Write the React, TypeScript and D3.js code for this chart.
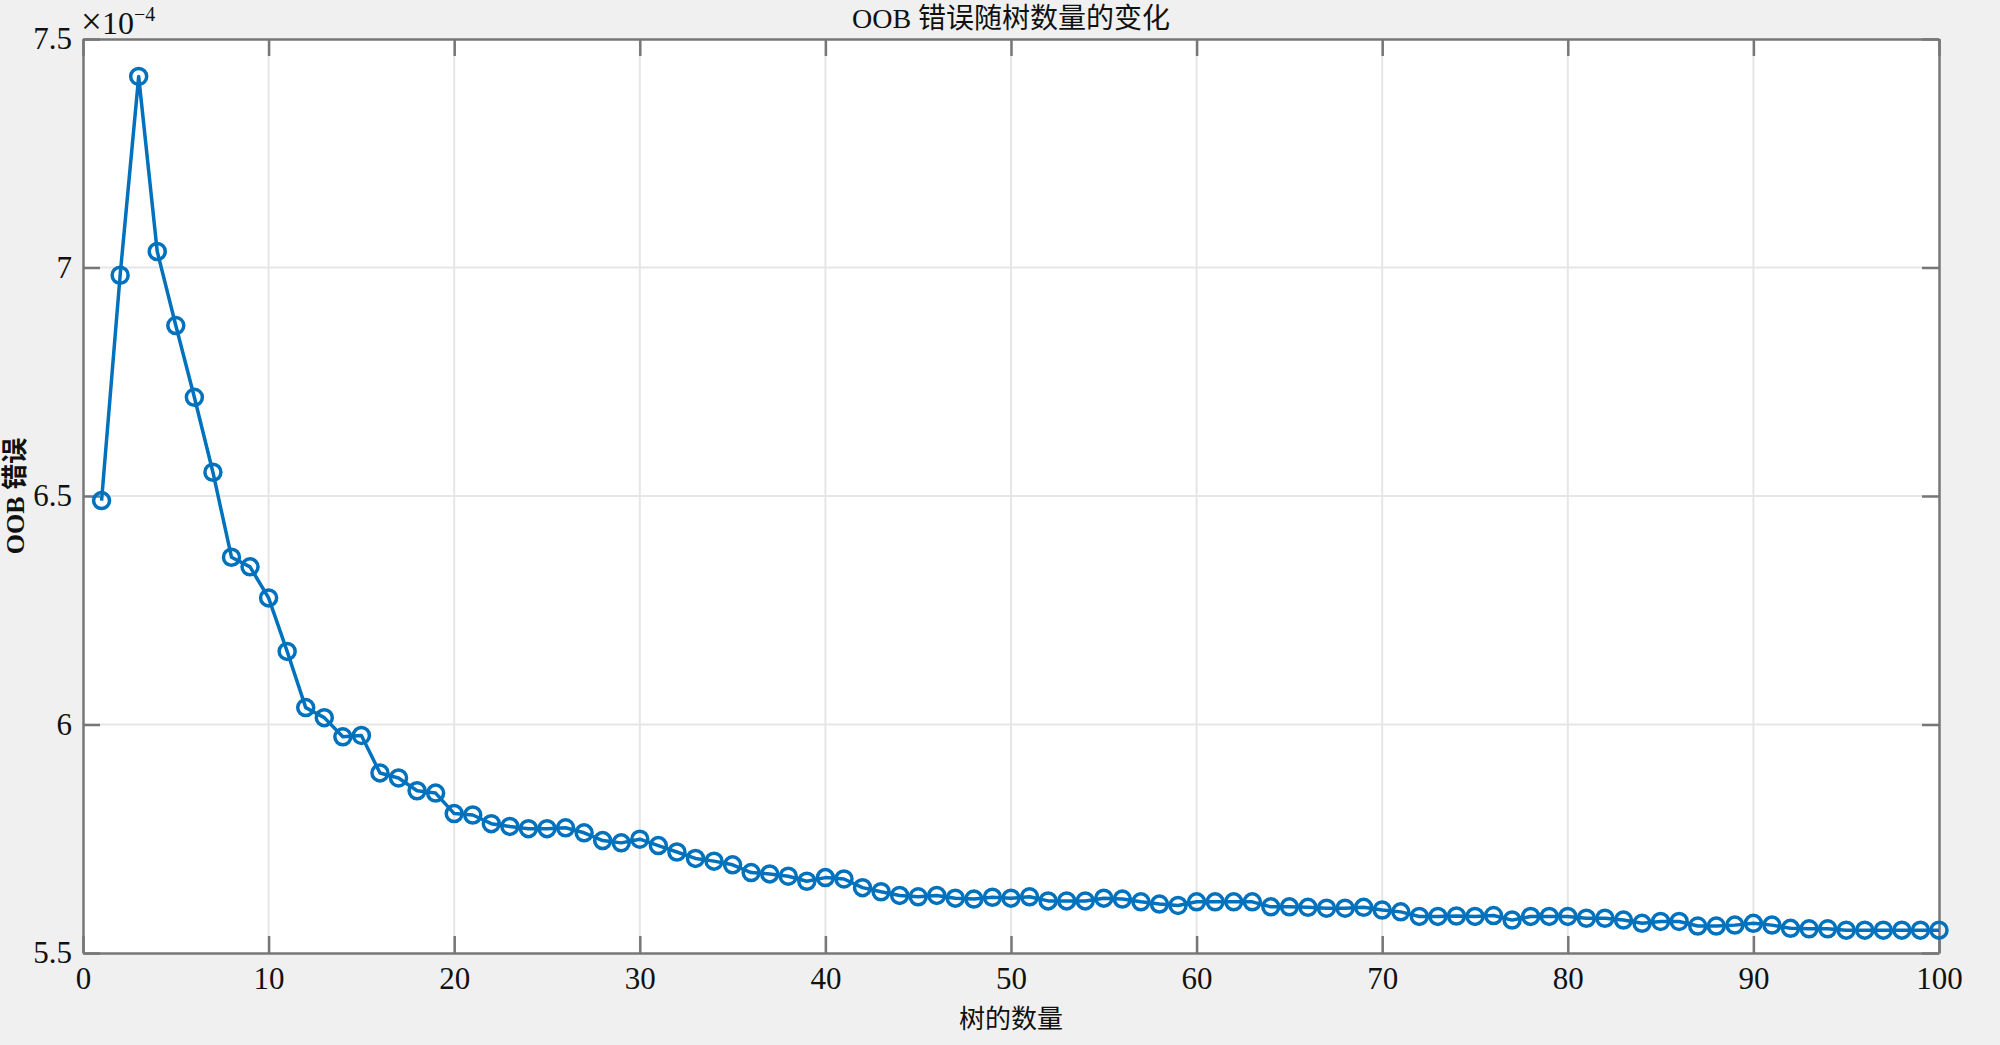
import React, { useEffect, useRef } from "react";
import * as d3 from "d3";

// OOB error (x 1e-4) for 1..100 trees
const trees = d3.range(1, 101);
const oobError = [
  6.49, 6.983, 7.418, 7.035, 6.873, 6.716, 6.552, 6.366, 6.345, 6.277,
  6.16, 6.037, 6.015, 5.973, 5.976, 5.894, 5.883, 5.855, 5.85, 5.805,
  5.802, 5.783, 5.777, 5.772, 5.772, 5.774, 5.763, 5.746, 5.741, 5.749,
  5.735, 5.721, 5.707, 5.701, 5.693, 5.676, 5.673, 5.668, 5.657, 5.665,
  5.662, 5.643, 5.634, 5.626, 5.623, 5.626, 5.62, 5.618, 5.622, 5.62,
  5.623, 5.614, 5.614, 5.614, 5.62, 5.618, 5.612, 5.607, 5.604, 5.612,
  5.612, 5.612, 5.612, 5.601, 5.601, 5.6, 5.598, 5.598, 5.6, 5.594,
  5.59, 5.58, 5.58, 5.581, 5.58, 5.582, 5.572, 5.58, 5.58, 5.58,
  5.576, 5.576, 5.572, 5.565, 5.569, 5.569, 5.559, 5.559, 5.561, 5.565,
  5.561, 5.554, 5.553, 5.553, 5.55, 5.55, 5.55, 5.55, 5.55, 5.55,
];
const xTicks = [0, 10, 20, 30, 40, 50, 60, 70, 80, 90, 100];
const yTicks = [5.5, 6, 6.5, 7, 7.5];

const title = "OOB 错误随树数量的变化";
const xLabel = "树的数量";
const yLabel = "OOB 错误";

const width = 2000;
const height = 1045;
const margin = { top: 39, right: 61, bottom: 92, left: 83 };
const font = "'Liberation Serif', 'Times New Roman', 'Noto Sans CJK SC', serif";

const App = () => {
  const ref = useRef<SVGSVGElement>(null);

  useEffect(() => {
    const svg = d3.select(ref.current);
    svg.selectAll("*").remove();

    const x = d3.scaleLinear().domain([0, 100]).range([margin.left, width - margin.right]);
    const y = d3.scaleLinear().domain([5.5, 7.5]).range([height - margin.bottom, margin.top]);
    const x0 = margin.left, x1 = width - margin.right;
    const y0 = height - margin.bottom, y1 = margin.top;
    const tickLen = 17;
    const axisColor = "#777";

    svg.append("rect").attr("width", width).attr("height", height).attr("fill", "#f0f0f0");
    svg.append("rect").attr("x", x0).attr("y", y1).attr("width", x1 - x0).attr("height", y0 - y1).attr("fill", "#fff");

    // grid
    const grid = svg.append("g").attr("stroke", "#e6e6e6").attr("stroke-width", 2);
    grid.selectAll(".gx").data(xTicks.slice(1, -1)).enter().append("line")
      .attr("x1", (d) => x(d)).attr("x2", (d) => x(d)).attr("y1", y1).attr("y2", y0);
    grid.selectAll(".gy").data(yTicks.slice(1, -1)).enter().append("line")
      .attr("x1", x0).attr("x2", x1).attr("y1", (d) => y(d)).attr("y2", (d) => y(d));

    // axes with ticks on all sides
    const xAxis = d3.axisBottom(x).tickValues(xTicks).tickSizeInner(-tickLen).tickSizeOuter(0).tickPadding(14).tickFormat(d3.format("d"));
    const yAxis = d3.axisLeft(y).tickValues(yTicks).tickSizeInner(-tickLen).tickSizeOuter(0).tickPadding(11).tickFormat((d) => String(d));
    const xTop = d3.axisTop(x).tickValues(xTicks).tickSizeInner(-tickLen).tickSizeOuter(0).tickFormat(() => "");
    const yRight = d3.axisRight(y).tickValues(yTicks).tickSizeInner(-tickLen).tickSizeOuter(0).tickFormat(() => "");

    const styleAxis = (g) => {
      g.selectAll("path").attr("stroke", axisColor).attr("stroke-width", 2.5);
      g.selectAll("line").attr("stroke", axisColor).attr("stroke-width", 2.5);
      g.selectAll("text").attr("fill", "#111").style("font-family", font).style("font-size", "31px");
    };
    svg.append("g").attr("transform", `translate(0,${y0})`).call(xAxis).call(styleAxis);
    svg.append("g").attr("transform", `translate(${x0},0)`).call(yAxis).call(styleAxis);
    svg.append("g").attr("transform", `translate(0,${y1})`).call(xTop).call(styleAxis);
    svg.append("g").attr("transform", `translate(${x1},0)`).call(yRight).call(styleAxis);

    // series
    const color = "#0072bd";
    const line = d3.line<number>().x((d, i) => x(trees[i])).y((d) => y(d));
    svg.append("path").datum(oobError).attr("d", line).attr("fill", "none")
      .attr("stroke", color).attr("stroke-width", 3.5).attr("stroke-linejoin", "round");
    svg.append("g").selectAll("circle").data(oobError).enter().append("circle")
      .attr("cx", (d, i) => x(trees[i])).attr("cy", (d) => y(d)).attr("r", 8)
      .attr("fill", "none").attr("stroke", color).attr("stroke-width", 3.5);

    // exponent label
    const ex = svg.append("text").attr("x", x0 - 2).attr("y", 34)
      .style("font-family", font).style("font-size", "32px").attr("fill", "#111");
    ex.append("tspan").style("font-size", "37px").text("×");
    ex.append("tspan").text("10");
    ex.append("tspan").attr("dy", -13).style("font-size", "20px").text("−4");

    // title and labels
    svg.append("text").attr("x", (x0 + x1) / 2).attr("y", 28).attr("text-anchor", "middle")
      .style("font-family", font).style("font-size", "28px").attr("fill", "#111").text(title);
    svg.append("text").attr("x", (x0 + x1) / 2).attr("y", 1028).attr("text-anchor", "middle")
      .style("font-family", font).style("font-size", "26px").attr("fill", "#111").text(xLabel);
    svg.append("text").attr("transform", `translate(24,${(y0 + y1) / 2}) rotate(-90)`).attr("text-anchor", "middle")
      .style("font-family", font).style("font-size", "26px").style("font-weight", "bold").attr("fill", "#111").text(yLabel);
  }, []);

  return (
    <div style={{ position: "absolute", left: 0, top: 0 }}>
      <svg ref={ref} width={width} height={height} style={{ display: "block" }}></svg>
    </div>
  );
};

export default App;
